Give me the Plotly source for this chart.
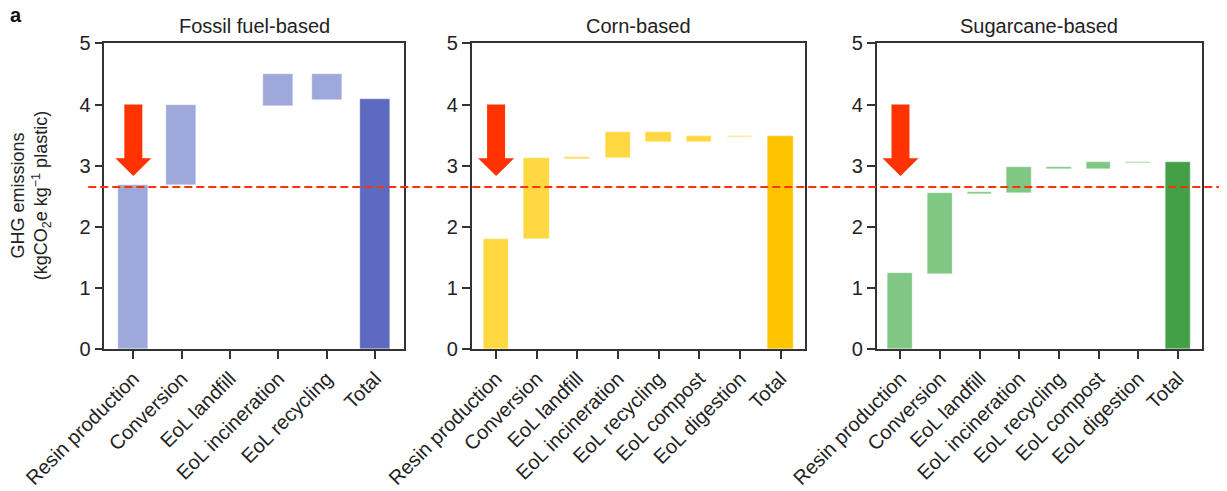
import plotly.graph_objects as go

# ---------------- data ----------------
fossil_categories = ["Resin production", "Conversion", "EoL landfill",
                     "EoL incineration", "EoL recycling", "Total"]
fossil_base = [0.0, 2.68, 3.98, 3.975, 4.07, 0.0]
fossil_top = [2.685, 3.99, 3.995, 4.50, 4.50, 4.085]

corn_categories = ["Resin production", "Conversion", "EoL landfill",
                   "EoL incineration", "EoL recycling", "EoL compost",
                   "EoL digestion", "Total"]
corn_base = [0.0, 1.79, 3.10, 3.125, 3.375, 3.375, 3.46, 0.0]
corn_top = [1.80, 3.12, 3.135, 3.545, 3.545, 3.48, 3.485, 3.48]

sugar_categories = ["Resin production", "Conversion", "EoL landfill",
                    "EoL incineration", "EoL recycling", "EoL compost",
                    "EoL digestion", "Total"]
sugar_base = [0.0, 1.22, 2.533, 2.554, 2.947, 2.947, 3.034, 0.0]
sugar_top = [1.236, 2.549, 2.565, 2.979, 2.979, 3.05, 3.05, 3.05]

panel_titles = ["Fossil fuel-based", "Corn-based", "Sugarcane-based"]
y_ticks = [0, 1, 2, 3, 4, 5]

fossil_threshold = 2.65          # dashed reference line
arrow_top, arrow_head, arrow_tip = 4.0, 3.12, 2.83

# ---------------- style ----------------
colors = [("#9fa8da", "#5c6bc0"), ("#ffd740", "#ffc400"), ("#81c784", "#43a047")]
RED = "#ff3300"
FONT = "Liberation Sans, Arial, Helvetica, sans-serif"
TXT = "#222222"
W, H = 1227, 491
OFF = 8  # page body margin offset


def px(x):
    return (x - OFF) / W


def py(y):
    return 1 - (y - OFF) / H


x_domains = [(px(104.3), px(404.3)), (px(471.7), px(805.0)), (px(876.7), px(1201.7))]
y_domain = (py(349.3), py(43.3))

panels = [
    (fossil_categories, fossil_base, fossil_top),
    (corn_categories, corn_base, corn_top),
    (sugar_categories, sugar_base, sugar_top),
]

fig = go.Figure()
layout = dict(
    width=W, height=H,
    margin=dict(l=0, r=0, t=0, b=0, autoexpand=False),
    plot_bgcolor="white", paper_bgcolor="white",
    showlegend=False,
    font=dict(family=FONT, size=18, color=TXT),
    bargap=0,
)

annotations = []
shapes = []

for i, (cats, base, top) in enumerate(panels):
    sfx = "" if i == 0 else str(i + 1)
    light, dark = colors[i]
    n = len(cats)
    idx = list(range(n))
    fig.add_trace(go.Bar(
        x=idx,
        y=[t - b for t, b in zip(top, base)],
        base=base,
        width=0.62,
        marker=dict(color=[light] * (n - 1) + [dark],
                    line=dict(width=1, color="rgba(255,255,255,0.35)")),
        xaxis="x" + sfx, yaxis="y" + sfx,
        hoverinfo="skip",
    ))
    layout["xaxis" + sfx] = dict(
        domain=list(x_domains[i]), anchor="y" + sfx,
        range=[-0.6, n - 0.4], automargin=False,
        tickmode="array", tickvals=idx, ticktext=cats, tickangle=-45,
        showline=True, linecolor="#333", linewidth=1.5, mirror=True,
        ticks="outside", ticklen=8, tickwidth=1.5, tickcolor="#333",
        showgrid=False, zeroline=False,
        tickfont=dict(size=20, color=TXT, family=FONT),
    )
    layout["yaxis" + sfx] = dict(
        domain=list(y_domain), anchor="x" + sfx,
        range=[0, 5], automargin=False,
        tickmode="array", tickvals=y_ticks,
        showline=True, linecolor="#333", linewidth=1.5, mirror=True,
        ticks="outside", ticklen=8, tickwidth=1.5, tickcolor="#333",
        showgrid=False, zeroline=False,
        tickfont=dict(size=20, color=TXT, family=FONT),
    )
    # panel title
    annotations.append(dict(
        text=panel_titles[i], xref="paper", yref="paper",
        x=(x_domains[i][0] + x_domains[i][1]) / 2, y=py(26),
        xanchor="center", yanchor="middle", showarrow=False,
        font=dict(size=20, color=TXT, family=FONT),
    ))
    # red arrow above resin production bar
    shapes.append(dict(
        type="path", xref="x" + sfx, yref="y" + sfx,
        xsizemode="pixel", xanchor=0,
        path=(f"M -9,{arrow_top} L 9,{arrow_top} L 9,{arrow_head} "
              f"L 18,{arrow_head} L 0,{arrow_tip} L -18,{arrow_head} "
              f"L -9,{arrow_head} Z"),
        fillcolor=RED, line=dict(width=0), layer="above",
    ))

# dashed reference line across all panels
shapes.append(dict(
    type="line", xref="paper", yref="y",
    x0=px(88.3), x1=1.0, y0=fossil_threshold, y1=fossil_threshold,
    line=dict(color=RED, width=2, dash="8px,4px"), layer="above",
))

# y-axis title (two lines)
annotations.append(dict(
    text="GHG emissions<br>(kgCO<sub>2</sub>e kg<sup>−1</sup> plastic)",
    xref="paper", yref="paper", x=px(31), y=(y_domain[0] + y_domain[1]) / 2,
    xanchor="center", yanchor="middle", textangle=-90, showarrow=False,
    font=dict(size=18, color=TXT, family=FONT),
))
# panel letter
annotations.append(dict(
    text="<b>a</b>", xref="paper", yref="paper", x=px(16), y=py(15),
    xanchor="center", yanchor="middle", showarrow=False,
    font=dict(size=20, color="#111", family=FONT),
))

layout["annotations"] = annotations
layout["shapes"] = shapes
fig.update_layout(**layout)
fig.write_html("out.html")
